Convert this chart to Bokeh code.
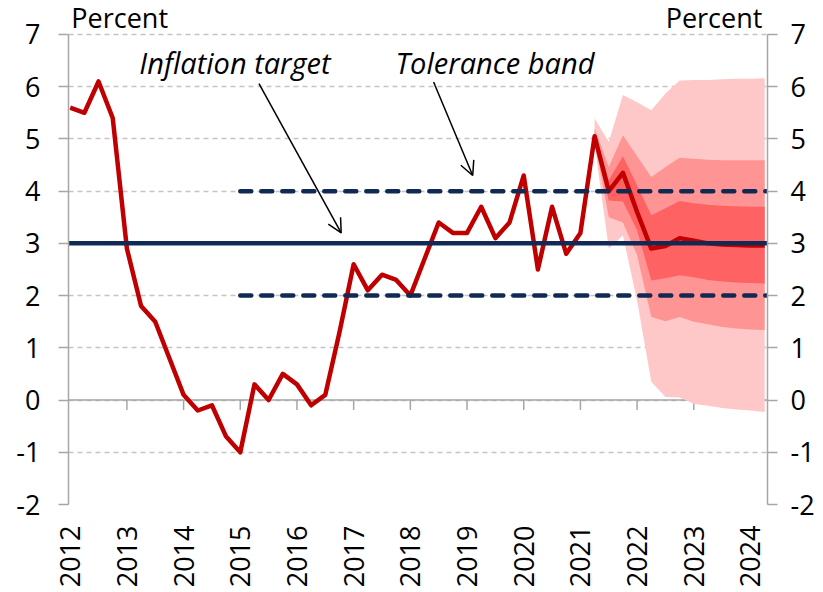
import math
from bokeh.plotting import figure
from bokeh.models import Range1d, FixedTicker, LinearAxis, Label, Arrow, OpenHead, Span
from bokeh.embed import file_html
from bokeh.resources import INLINE

# ---------------- data ----------------
start_year = 2012
cpi = [5.6, 5.5, 6.1, 5.4, 2.9, 1.8, 1.5, 0.8, 0.1, -0.2, -0.1, -0.7, -1.0,
       0.3, 0.0, 0.5, 0.3, -0.1, 0.1, 1.3, 2.6, 2.1, 2.4, 2.3, 2.0, 2.7,
       3.4, 3.2, 3.2, 3.7, 3.1, 3.4, 4.3, 2.5, 3.7, 2.8, 3.2, 5.05, 4.0,
       4.35, 3.6, 2.9, 2.95, 3.1, 3.05, 3.0, 2.98, 2.97, 2.96, 2.96]
quarters = [start_year + i / 4 for i in range(len(cpi))]

fan_start = 37  # first quarter with a forecast band
light_hi = [5.39, 4.94, 5.84, 5.70, 5.55, 5.87, 6.12, 6.13, 6.13, 6.14, 6.15, 6.15, 6.16]
med_hi = [5.20, 4.46, 5.07, 4.67, 4.27, 4.46, 4.64, 4.62, 4.60, 4.59, 4.59, 4.59, 4.59]
dark_hi = [5.10, 4.21, 4.67, 4.11, 3.54, 3.67, 3.81, 3.77, 3.74, 3.72, 3.71, 3.70, 3.70]
dark_lo = [5.00, 3.82, 3.80, 3.25, 2.29, 2.33, 2.39, 2.35, 2.30, 2.27, 2.25, 2.24, 2.23]
med_lo = [4.95, 3.50, 3.40, 2.77, 1.59, 1.51, 1.59, 1.50, 1.45, 1.40, 1.37, 1.35, 1.34]
light_lo = [4.90, 2.90, 3.15, 1.90, 0.35, 0.06, 0.05, -0.07, -0.11, -0.15, -0.18, -0.20, -0.23]
fan_x = quarters[fan_start:fan_start + len(light_hi)]

target = 3.0
band_low, band_high = 2.0, 4.0
band_from = 2015

years = list(range(2012, 2025))
y_ticks = list(range(-2, 8))

# ---------------- styles ----------------
FONT = "Open Sans"
NAVY = "#102A54"
RED = "#C00000"
GRAY = "#A6A6A6"
GRID = "#C4C4C4"

x0, x1 = 2011.97, 2024.30
y_min, y_max = -2, 7
y_top = 7.65  # headroom for the "Percent" unit labels

p = figure(width=818, height=590, x_range=Range1d(x0, x1), y_range=Range1d(y_min, y_top),
           output_backend="svg", toolbar_location=None,
           min_border_left=68, min_border_right=51, min_border_top=0, min_border_bottom=86)
p.outline_line_color = None
p.background_fill_color = "white"
p.border_fill_color = "white"

# x axis (labels only, at the bottom)
p.xaxis.ticker = FixedTicker(ticks=years)
p.xaxis.major_label_overrides = {y: str(y) for y in years}
p.xaxis.major_label_orientation = math.pi / 2
p.xaxis.axis_line_color = None
p.xaxis.major_tick_line_color = None
p.xaxis.minor_tick_line_color = None
p.xaxis.major_label_standoff = 15
p.xaxis.major_label_text_font = FONT
p.xaxis.major_label_text_font_size = "27px"
p.xaxis.major_label_text_color = "black"


def style_y(ax, standoff):
    ax.ticker = FixedTicker(ticks=y_ticks)
    ax.bounds = (y_min, y_max)
    ax.major_label_overrides = {t: str(t) for t in y_ticks}
    ax.axis_line_color = GRAY
    ax.axis_line_width = 1.5
    ax.major_tick_line_color = GRAY
    ax.major_tick_line_width = 1.5
    ax.major_tick_out = 10
    ax.major_tick_in = 0
    ax.minor_tick_line_color = None
    ax.major_label_standoff = standoff
    ax.major_label_text_font = FONT
    ax.major_label_text_font_size = "27px"
    ax.major_label_text_color = "black"


style_y(p.yaxis[0], 18)
right_axis = LinearAxis()
style_y(right_axis, 13)
p.add_layout(right_axis, "right")

p.xgrid.visible = False
p.ygrid.ticker = FixedTicker(ticks=y_ticks)
p.ygrid.grid_line_color = GRID
p.ygrid.grid_line_dash = "5 4"
p.ygrid.grid_line_width = 1.5

# horizontal category axis crossing at zero, with year ticks
px_per_unit = 52.2
tick_len = 10 / px_per_unit
p.add_layout(Span(location=0, dimension="width", line_color=GRAY, line_width=1.5, level="underlay"))
p.segment(x0=years[1:], y0=[0] * (len(years) - 1), x1=years[1:], y1=[-tick_len] * (len(years) - 1),
          line_color=GRAY, line_width=1.5)

# fan chart bands
p.varea(x=fan_x, y1=light_lo, y2=light_hi, fill_color="#FFC8C8")
p.varea(x=fan_x, y1=med_lo, y2=med_hi, fill_color="#FF9494")
p.varea(x=fan_x, y1=dark_lo, y2=dark_hi, fill_color="#FF6262")

# inflation line
p.line(quarters, cpi, line_color=RED, line_width=4.5, line_join="round")

# target and tolerance band
p.segment(x0=[x0], y0=[target], x1=[x1], y1=[target], line_color=NAVY, line_width=4.5)
p.segment(x0=[band_from, band_from], y0=[band_low, band_high], x1=[x1, x1], y1=[band_low, band_high],
          line_color=NAVY, line_width=4.5, line_dash="11 10", line_cap="round")

# annotations
for lx, txt in [(2013.22, "Inflation target"), (2017.74, "Tolerance band")]:
    p.add_layout(Label(x=lx, y=6.46, text=txt, text_font=FONT,
                       text_font_style="italic", text_font_size="29px", text_baseline="alphabetic",
                       text_color="black"))
p.add_layout(Arrow(x_start=2015.33, y_start=6.06, x_end=2016.78, y_end=3.20,
                   line_color="black", line_width=1.5,
                   end=OpenHead(size=14, line_color="black", line_width=1.5)))
p.add_layout(Arrow(x_start=2018.41, y_start=6.09, x_end=2019.10, y_end=4.30,
                   line_color="black", line_width=1.5,
                   end=OpenHead(size=14, line_color="black", line_width=1.5)))

p.add_layout(Label(x=2012.02, y=7.32, text="Percent", text_font=FONT, text_font_size="27px",
                   text_baseline="alphabetic", text_align="left", text_color="black"))
p.add_layout(Label(x=2024.21, y=7.32, text="Percent", text_font=FONT, text_font_size="27px",
                   text_baseline="alphabetic", text_align="right", text_color="black"))

open("out.html", "w").write(file_html(p, INLINE))
